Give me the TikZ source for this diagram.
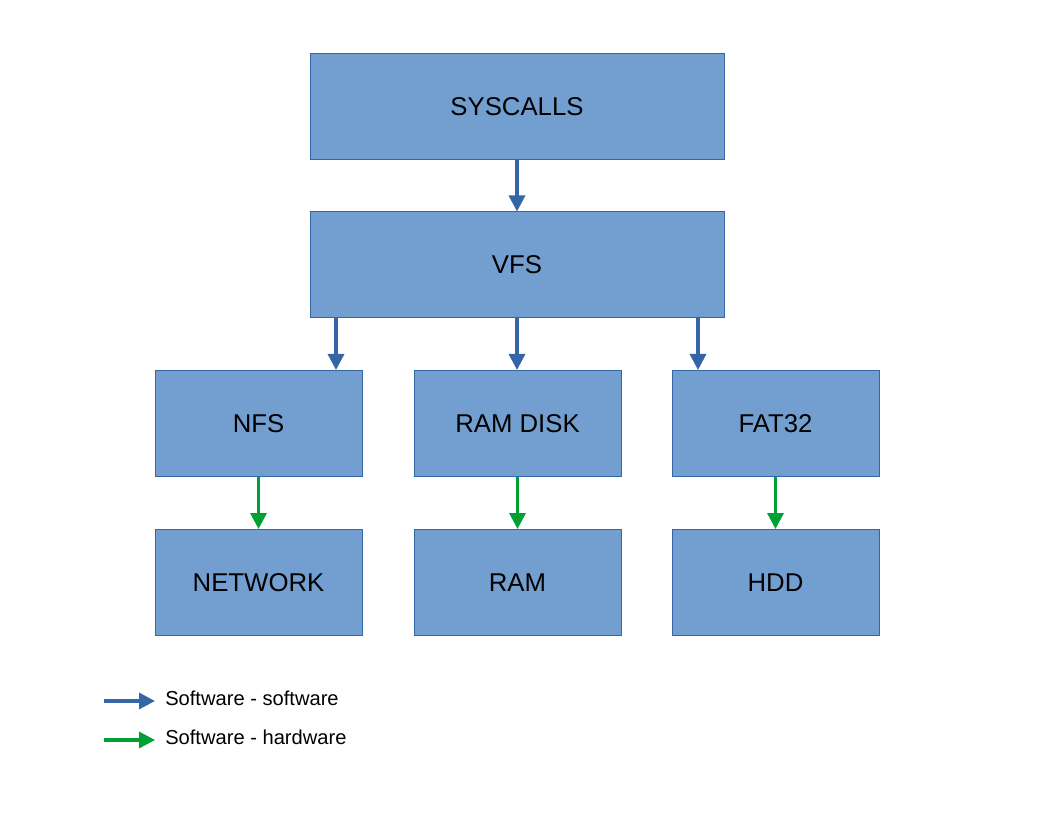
\documentclass[tikz,border=0pt]{standalone}
\usepackage{fontspec}
\setmainfont{Liberation Sans}
\usetikzlibrary{positioning}
\usetikzlibrary{arrows.meta}
\definecolor{boxfill}{HTML}{729FCF}
\definecolor{boxline}{HTML}{3465A4}
\definecolor{hwgreen}{HTML}{00A033}
\tikzset{
	fsbox/.style={draw=boxline,fill=boxfill,line width=0.75pt,minimum height=79.5pt,inner sep=0pt,font=\fontsize{19.3}{22}\selectfont},
	widebox/.style={fsbox,minimum width=310.5pt},
	smallbox/.style={fsbox,minimum width=155.25pt},
	swarrow/.style={draw=boxline,line width=2.4pt,-{Triangle[width=12pt,length=12pt]}},
	hwarrow/.style={draw=hwgreen,line width=2.4pt,-{Triangle[width=12pt,length=12pt]}}
}
\begin{document}
\begin{tikzpicture}[x=0.75pt,y=-0.75pt]
				\useasboundingbox (0,0) rectangle (1056,816);
				%Nodes
				\node[widebox] 		 (syscalls) at (517,106.5) {SYSCALLS};
				\node[widebox] 		 (vfs) at (517,265) {VFS};
				\node[smallbox] 		 (nfs) at (258.5,423.5) {NFS};
				\node[smallbox] 		 (ramdisk) at (517.5,423.5) {RAM DISK};
				\node[smallbox] 		 (fat) at (775.5,423.5) {FAT32};
				\node[smallbox] 		 (network) at (258.5,582.5) {NETWORK};
				\node[smallbox] 		 (ram) at (517.5,582.5) {RAM};
				\node[smallbox] 		 (hdd) at (775.5,582.5) {HDD};
				\coordinate      (v1) 	at 	(336,318);
				\coordinate      (v3) 	at 	(698,318);
				
				%Lines
				\draw[swarrow] (syscalls) -- (vfs);
				\draw[swarrow] (v1) -- (v1 |- nfs.north);
				\draw[swarrow] (vfs) -- (vfs |- ramdisk.north);
				\draw[swarrow] (v3) -- (v3 |- fat.north);
				\draw[hwarrow] (nfs) -- (network);
				\draw[hwarrow] (ramdisk.south -| ram.north) -- (ram);
				\draw[hwarrow] (fat) -- (hdd);

				%Legend
				\coordinate      (l1) 	at 	(104,701);
				\coordinate      (l2) 	at 	(104,740);
				\draw[swarrow] (l1) -- ++(51,0);
				\draw[hwarrow] (l2) -- ++(51,0);
				\node[anchor=west,inner sep=0pt,font=\fontsize{15.1}{18}\selectfont] (lsw) at (165,698) {Software - software};
				\node[anchor=west,inner sep=0pt,font=\fontsize{15.1}{18}\selectfont] (lhw) at (165,737) {Software - hardware};
		\end{tikzpicture}
\end{document}
